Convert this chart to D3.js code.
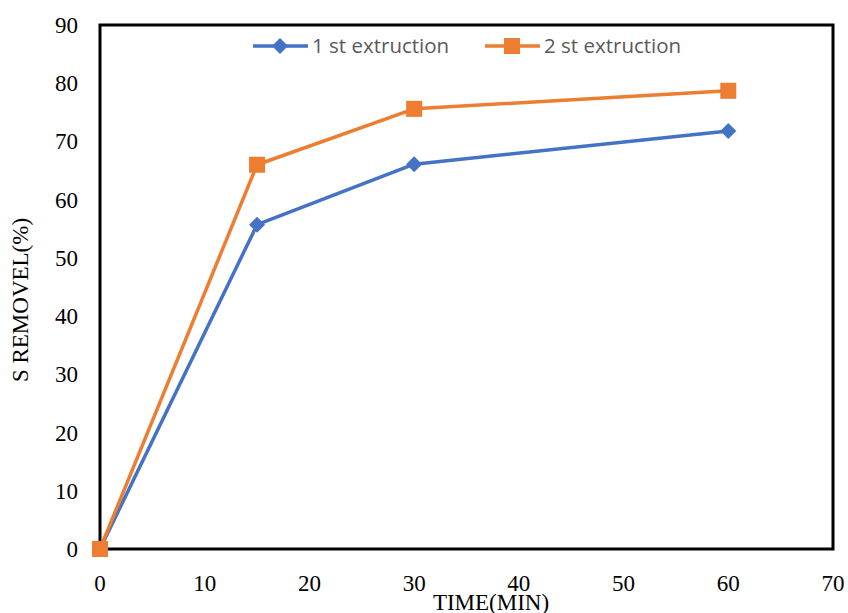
<!DOCTYPE html>
<html><head><meta charset="utf-8">
<script src="https://cdn.jsdelivr.net/npm/d3@7"></script>
<style>body{margin:0;background:#fff}</style>
</head><body>
<svg id="c" width="848" height="613"></svg>
<script>
const times = [0, 15, 30, 60];
const series1 = [0, 55.7, 66.1, 71.8];
const series2 = [0, 66.0, 75.6, 78.7];
const seriesNames = ["1 st extruction", "2 st extruction"];
const xTicks = [0, 10, 20, 30, 40, 50, 60, 70];
const yTicks = [0, 10, 20, 30, 40, 50, 60, 70, 80, 90];

const svg = d3.select("#c");
const L = 100, R = 833, T = 25, B = 549;
const x = d3.scaleLinear().domain([0, 70]).range([L, R]);
const y = d3.scaleLinear().domain([0, 90]).range([B, T]);
const serif = "'Liberation Serif','Times New Roman',serif";

// frame
svg.append("rect").attr("x", L).attr("y", T).attr("width", R - L).attr("height", B - T)
  .attr("fill", "none").attr("stroke", "#000").attr("stroke-width", 3);

// tick labels
svg.append("g").selectAll("text").data(yTicks).join("text")
  .attr("x", 78).attr("y", d => y(d) + 8).attr("text-anchor", "end")
  .attr("font-family", serif).attr("font-size", 23).attr("fill", "#000").text(d => d);
svg.append("g").selectAll("text").data(xTicks).join("text")
  .attr("x", d => x(d)).attr("y", 591).attr("text-anchor", "middle")
  .attr("font-family", serif).attr("font-size", 23).attr("fill", "#000").text(d => d);

// axis titles
svg.append("text").attr("x", 491).attr("y", 610).attr("text-anchor", "middle")
  .attr("font-family", serif).attr("font-size", 23).text("TIME(MIN)");
svg.append("text").attr("transform", "translate(28,300) rotate(-90)").attr("text-anchor", "middle")
  .attr("font-family", serif).attr("font-size", 23).text("S REMOVEL(%)");

const colors = ["#4472C4", "#ED7D31"];
const line = d3.line().x((d, i) => x(times[i])).y(d => y(d));
const data = [series1, series2];

function marker(g, i, cx, cy) {
  if (i === 0) {
    g.append("path").attr("d", `M${cx},${cy-8}L${cx+8},${cy}L${cx},${cy+8}L${cx-8},${cy}Z`).attr("fill", colors[0]);
  } else {
    g.append("rect").attr("x", cx - 8).attr("y", cy - 8).attr("width", 16).attr("height", 16).attr("fill", colors[1]);
  }
}

data.forEach((s, i) => {
  svg.append("path").datum(s).attr("d", line).attr("fill", "none")
    .attr("stroke", colors[i]).attr("stroke-width", 3.5).attr("stroke-linejoin", "round");
});
data.forEach((s, i) => {
  const g = svg.append("g");
  s.forEach((v, j) => marker(g, i, x(times[j]), y(v)));
});

// legend
const legX = [253, 485];
seriesNames.forEach((n, i) => {
  const g = svg.append("g");
  g.append("line").attr("x1", legX[i]).attr("x2", legX[i] + 55).attr("y1", 46).attr("y2", 46)
    .attr("stroke", colors[i]).attr("stroke-width", 3.5);
  marker(g, i, legX[i] + 27, 46);
  g.append("text").attr("x", legX[i] + 59).attr("y", 53).attr("font-family", "'Open Sans','Carlito',sans-serif")
    .attr("font-size", 20.5).attr("fill", "#595959").text(n);
});
</script>
</body></html>
